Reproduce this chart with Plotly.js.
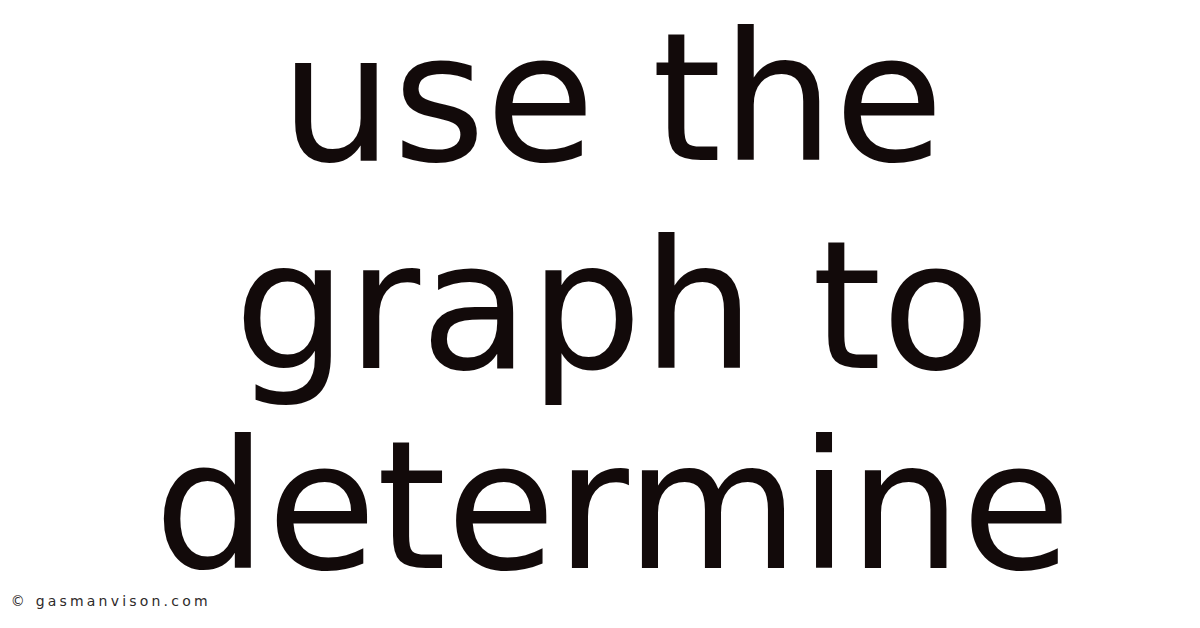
<!DOCTYPE html>
<html>
<head>
<meta charset="utf-8">
<script src="https://cdn.plot.ly/plotly-3.0.1.min.js"></script>
<style>
  html, body { margin: 0; padding: 0; background: #ffffff; }
  #chart { width: 1200px; height: 628px; }
</style>
</head>
<body>
<div id="chart"></div>
<script>
// TEXT
const TITLE_LINES = ['use the', 'graph to', 'determine'];
const LINE_Y = [98, 306, 506];
const WATERMARK = '© gasmanvison.com';

const TEXT_COLOR = '#120a0a';
const FONT = 'DejaVu Sans, sans-serif';
const MARK_SPACING = 3.2;

let annotations = TITLE_LINES.map((line, i) => ({
  text: line,
  x: 612,
  y: LINE_Y[i],
  xref: 'x',
  yref: 'y',
  xanchor: 'center',
  yanchor: 'middle',
  showarrow: false,
  font: { family: FONT, size: 178, color: TEXT_COLOR }
}));

// annotation text is drawn centred in its box, so the extra letter spacing
// grows both ways: push the box right by half of it
annotations.push({
  text: WATERMARK,
  x: 9 + MARK_SPACING * WATERMARK.length / 2,
  y: 601,
  xref: 'x',
  yref: 'y',
  xanchor: 'left',
  yanchor: 'middle',
  showarrow: false,
  font: { family: FONT, size: 14, color: '#2e2a2a' }
});

let hiddenAxis = {
  visible: false,
  showgrid: false,
  zeroline: false,
  fixedrange: true
};

let layout = {
  width: 1200,
  height: 628,
  margin: { l: 0, r: 0, t: 0, b: 0, pad: 0 },
  paper_bgcolor: '#ffffff',
  plot_bgcolor: '#ffffff',
  showlegend: false,
  xaxis: Object.assign({}, hiddenAxis, { range: [0, 1200] }),
  yaxis: Object.assign({}, hiddenAxis, { range: [628, 0] }),
  annotations: annotations
};

Plotly.newPlot('chart', [], layout, { staticPlot: true, displayModeBar: false }).then(gd => {
  // the watermark in the picture is spread out wider than plain text
  let texts = gd.querySelectorAll('.annotation-text');
  let mark = texts[texts.length - 1];
  if (mark) mark.style.letterSpacing = MARK_SPACING + 'px';
});
</script>
</body>
</html>
